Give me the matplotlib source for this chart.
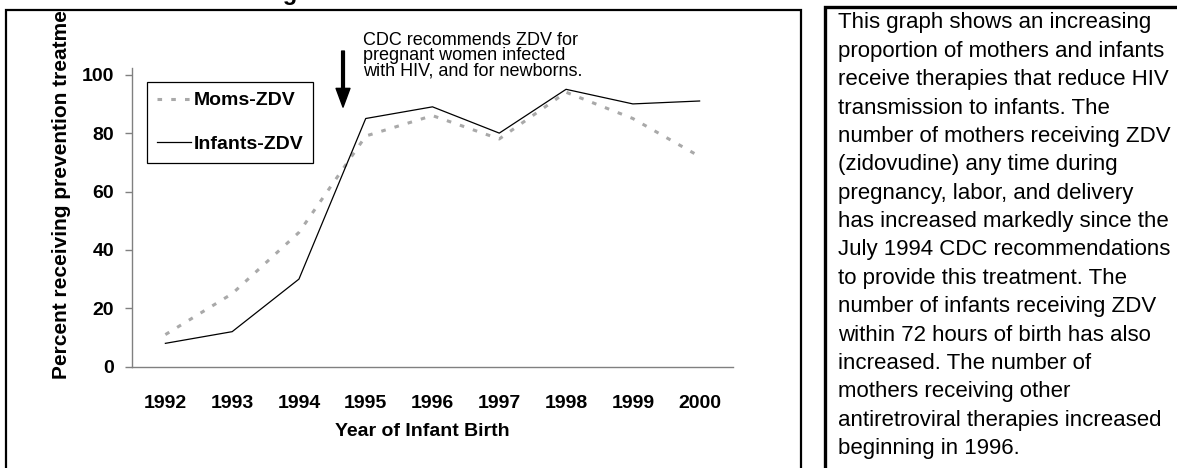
import matplotlib
matplotlib.use("Agg")
import matplotlib.pyplot as plt
from matplotlib.patches import Rectangle
from matplotlib.transforms import Bbox, TransformedBbox

years = [1992, 1993, 1994, 1995, 1996, 1997, 1998, 1999, 2000]
moms_zdv = [11, 25, 46, 79, 86, 78, 94, 85, 72]
infants_zdv = [8, 12, 30, 85, 89, 80, 95, 90, 91]
series_labels = ["Moms-ZDV", "Infants-ZDV"]
yticks = [0, 20, 40, 60, 80, 100]

note_lines = ["CDC recommends ZDV for",
              "pregnant women infected",
              "with HIV, and for newborns."]
side_lines = [
    "This graph shows an increasing",
    "proportion of mothers and infants",
    "receive therapies that reduce HIV",
    "transmission to infants. The",
    "number of mothers receiving ZDV",
    "(zidovudine) any time during",
    "pregnancy, labor, and delivery",
    "has increased markedly since the",
    "July 1994 CDC recommendations",
    "to provide this treatment. The",
    "number of infants receiving ZDV",
    "within 72 hours of birth has also",
    "increased. The number of",
    "mothers receiving other",
    "antiretroviral therapies increased",
    "beginning in 1996.",
]
recommendation_year = 1994.66

W, H = 1177, 468
plt.rcParams['font.family'] = ['Liberation Sans', 'DejaVu Sans']
fig = plt.figure(figsize=(W / 100, H / 100), dpi=100)


def fx(px):
    return px / W


def fy(py):
    return 1 - py / H


# frames
fig.patches.append(Rectangle((fx(6), fy(480)), fx(801) - fx(6), fy(10) - fy(480),
                             transform=fig.transFigure, fill=False, lw=1.6,
                             edgecolor='black', zorder=0))
fig.patches.append(Rectangle((fx(825), fy(480)), fx(1190) - fx(825), fy(7) - fy(480),
                             transform=fig.transFigure, fill=False, lw=2.4,
                             edgecolor='black', zorder=0))

ax = fig.add_axes([fx(132), fy(366.7), fx(733) - fx(132), fy(68) - fy(366.7)])
ax.set_xlim(1991.5, 2000.5)
ax.set_ylim(0, 102.3)

ax.plot(years, moms_zdv, color='#a9a9a9', lw=2.2, dashes=(1.5, 3),
        label=series_labels[0], solid_capstyle='butt', dash_capstyle='butt')
ax.plot(years, infants_zdv, color='black', lw=0.9, label=series_labels[1])

for s in ['top', 'right']:
    ax.spines[s].set_visible(False)
for s in ['left', 'bottom']:
    ax.spines[s].set_color('#808080')
    ax.spines[s].set_linewidth(1.0)

ax.set_xticks(years)
ax.set_xticklabels([str(y) for y in years], fontsize=14, fontweight='bold')
ax.set_yticks(yticks)
ax.set_yticklabels([str(v) for v in yticks], fontsize=14, fontweight='bold')
ax.tick_params(axis='x', length=0, pad=20.5)
ax.tick_params(axis='y', length=5, width=1.0, color='#808080', pad=8)

ax.set_xlabel("Year of Infant Birth", fontsize=14, fontweight='bold')
ax.xaxis.set_label_coords(0.4825, -0.19)

leg = ax.legend(loc='upper left', bbox_to_anchor=(fx(147), fy(82)),
                bbox_transform=fig.transFigure, borderaxespad=0,
                fancybox=False, edgecolor='black', framealpha=1,
                prop={'size': 14, 'weight': 'bold'}, handlelength=1.75,
                handletextpad=0.15, borderpad=0.5, labelspacing=1.35)
leg.get_frame().set_linewidth(0.9)

# arrow marking the CDC recommendation
ax.annotate("", xy=(recommendation_year, 88.9), xytext=(recommendation_year, 108.1),
            xycoords='data', textcoords='data', annotation_clip=False,
            arrowprops=dict(width=2.0, headwidth=10, headlength=13.5,
                            shrink=0, color='black'))

for i, line in enumerate(note_lines):
    fig.text(fx(363), fy(45 + i * 15), line, fontsize=13, va='baseline',
             ha='left')

# y label, clipped by the frame
yl = fig.text(fx(62), fy(379), "Percent receiving prevention treatment",
              rotation=90, fontsize=15, fontweight='bold', ha='center',
              va='bottom')
yl.set_clip_box(TransformedBbox(Bbox([[fx(6), fy(480)], [fx(801), fy(11)]]),
                                fig.transFigure))
yl.set_clip_on(True)

# title (mostly off the top of the picture)
fig.text(fx(297), 1.0, "Mothers and Infants Receiving", fontsize=17,
         fontweight='bold', ha='right', va='baseline')

for i, line in enumerate(side_lines):
    fig.text(fx(838), fy(28.3 + i * 28.4), line, fontsize=16, va='baseline',
             ha='left')

fig.savefig("out.png", dpi=100)
